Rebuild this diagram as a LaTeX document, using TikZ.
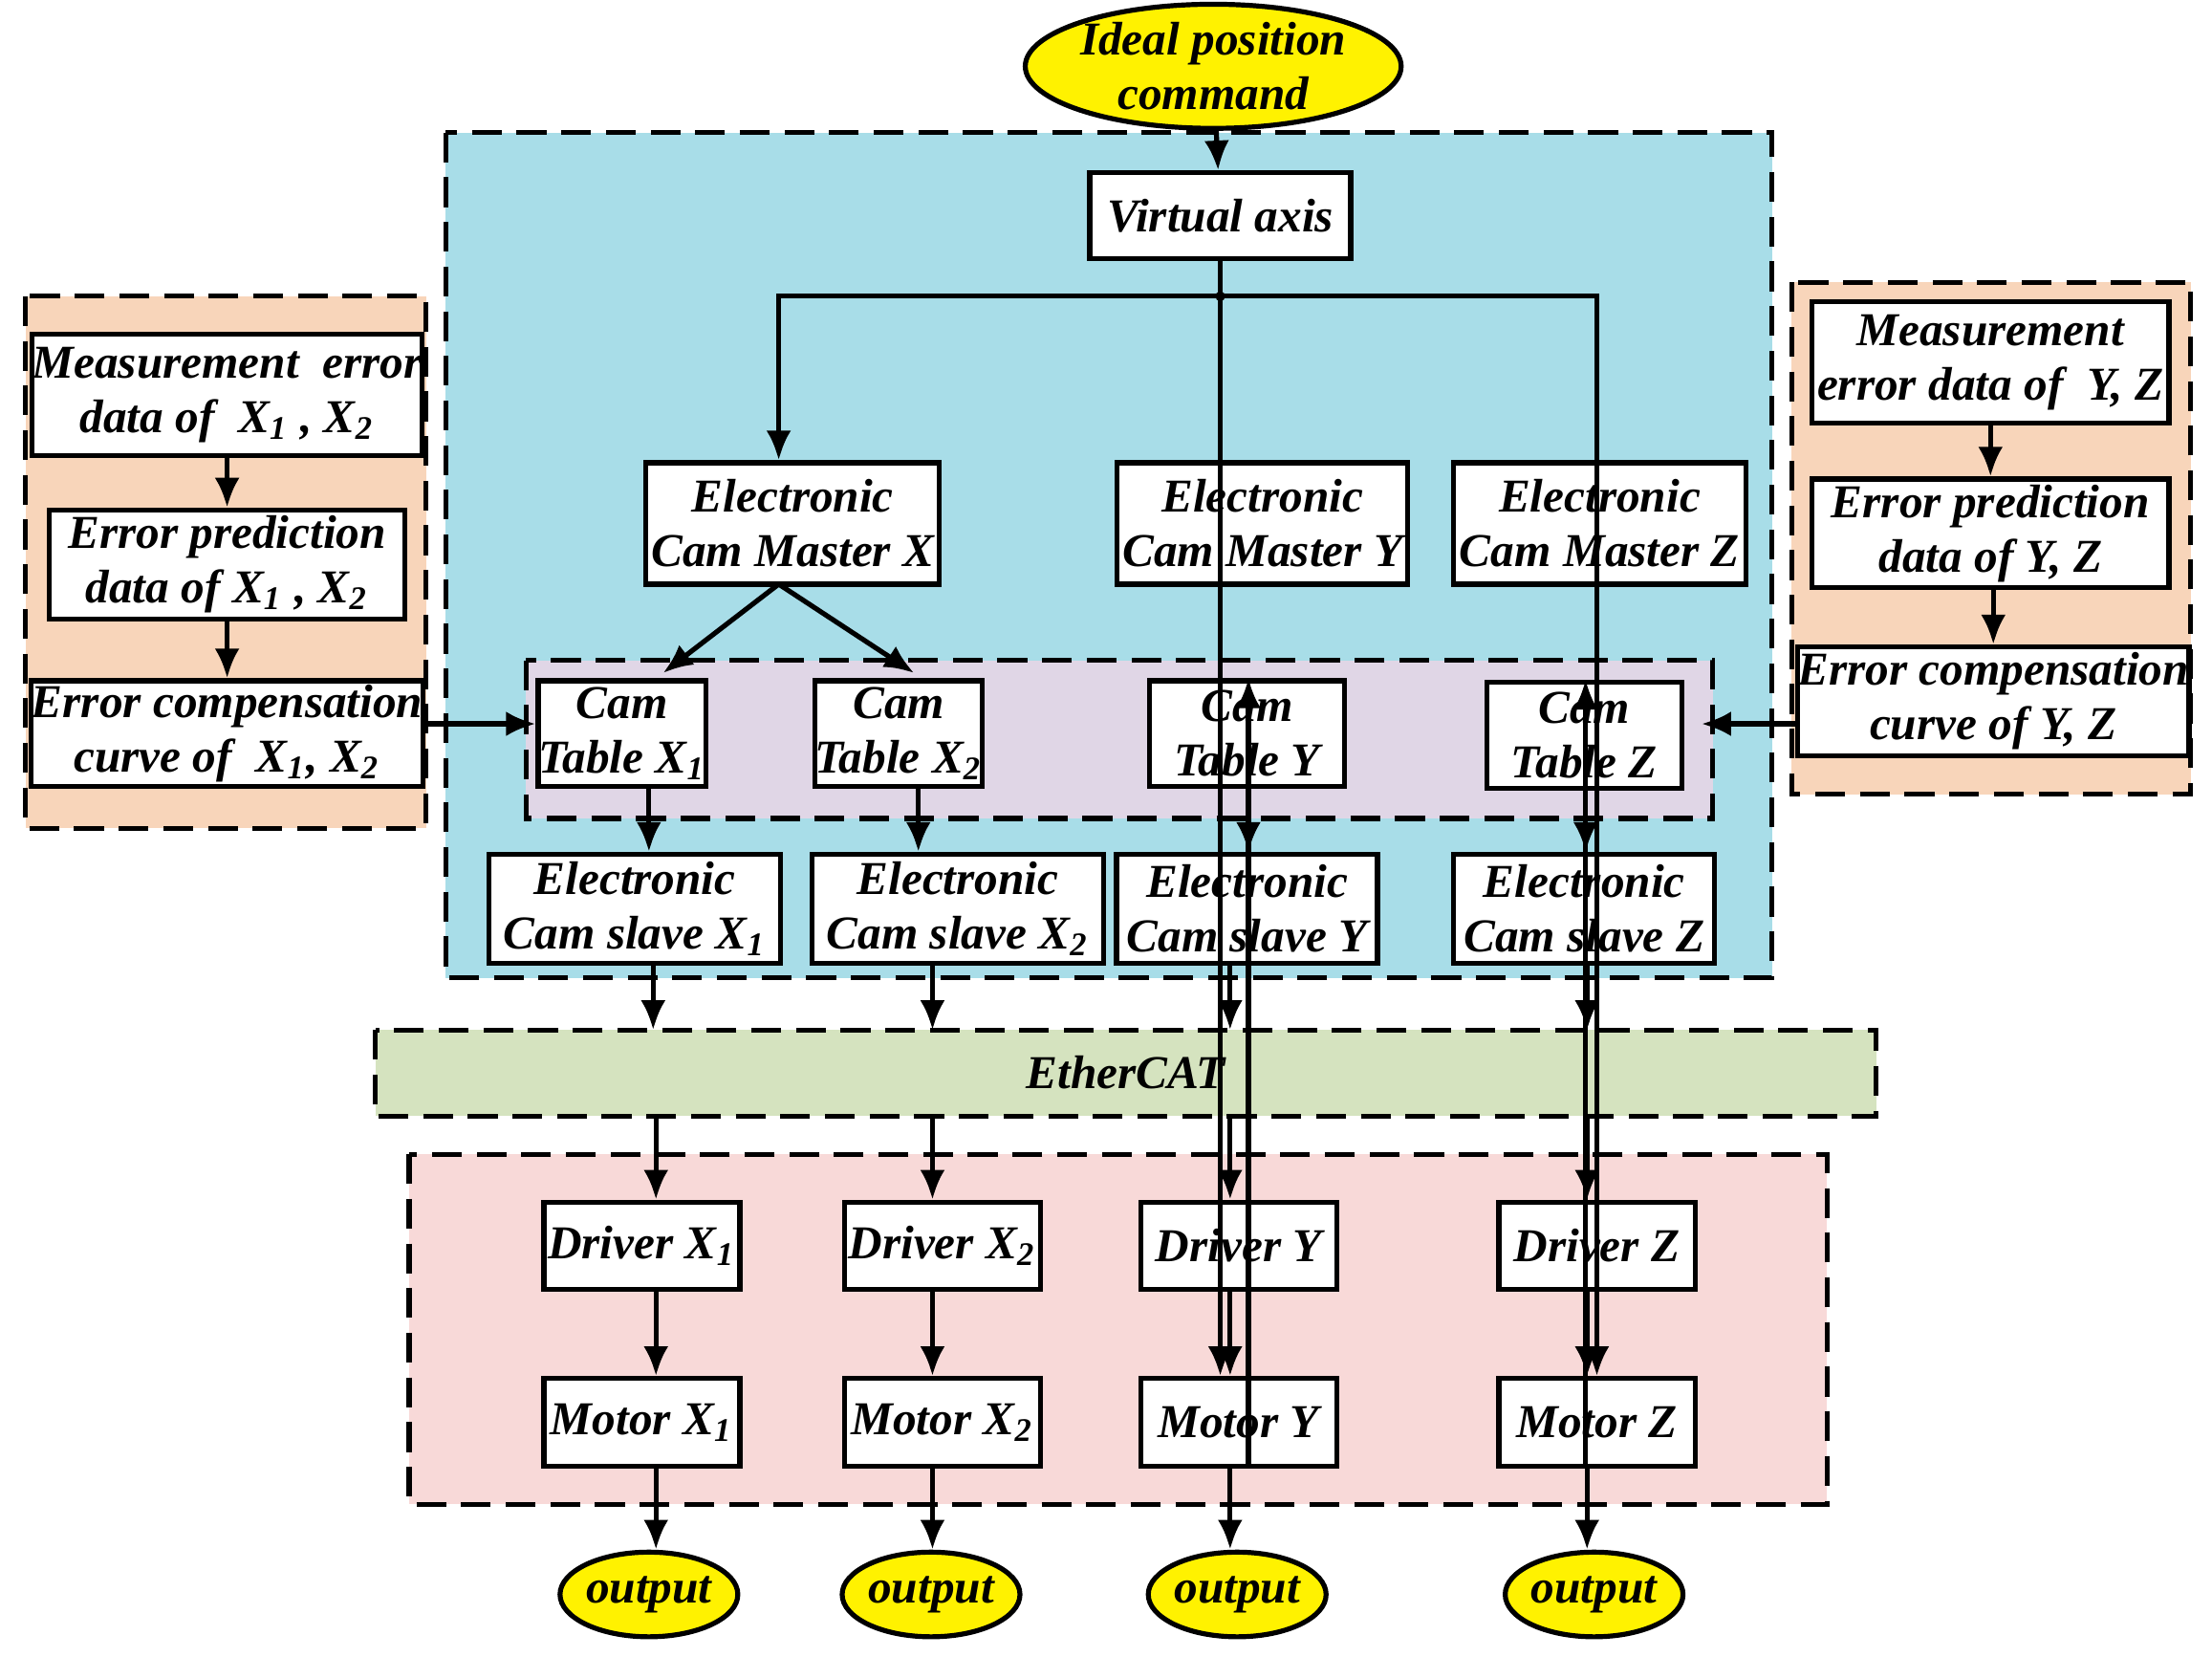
\documentclass[tikz,border=0pt]{standalone}
\usepackage{fontspec}
\setmainfont{Liberation Serif}
\usetikzlibrary{arrows.meta,shapes.geometric}
\begin{document}
\begin{tikzpicture}[x=0.01cm,y=-0.01cm,
  font=\fontsize{9.5}{11}\selectfont\bfseries\itshape,
  sz/.style 2 args={minimum width=#1*0.01cm,minimum height=#2*0.01cm},
  box/.style={draw,line width=1pt,fill=white,align=center,inner sep=0pt},
  reg/.style={draw,dashed,line width=1pt,dash pattern=on 6pt off 3pt},
  oval/.style={ellipse,draw,line width=1pt,fill=yellow,align=center,inner sep=0pt},
  ar/.style={-{Latex[length=6pt,width=5pt]},line width=1pt},
  ln/.style={line width=1pt}]
\useasboundingbox (0,0) rectangle (1568,1174);
\definecolor{cblue}{HTML}{A8DDE8}
\definecolor{cpur}{HTML}{E0D6E6}
\definecolor{corg}{HTML}{F8D5BA}
\definecolor{cgrn}{HTML}{D5E3BF}
\definecolor{cpink}{HTML}{F8D9D8}
% regions
\filldraw[reg,fill=cblue] (316,94) rectangle (1256,693);
\filldraw[reg,fill=cpur] (373,468) rectangle (1214,580);
\filldraw[reg,fill=corg] (18,210) rectangle (302,587);
\filldraw[reg,fill=corg] (1270,200) rectangle (1553,563);
\filldraw[reg,fill=cgrn] (266,730) rectangle (1330,791);
\filldraw[reg,fill=cpink] (290,818) rectangle (1295,1066);
\node (ecat) at (798,760) {EtherCAT};
% nodes
\node[oval,sz={250}{75}] (ideal) at (860,47) {Ideal position\\command};
\node[box,sz={185}{61}] (va) at (865,153) {Virtual axis};
\node[box,sz={208}{86}] (mx) at (562,371) {Electronic\\Cam Master X};
\node[box,sz={206}{86}] (my) at (895,371) {Electronic\\Cam Master Y};
\node[box,sz={207}{86}] (mz) at (1134,371) {Electronic\\Cam Master Z};
\node[box,sz={111}{75}] (tx1) at (441,520) {Cam\\Table X\textsubscript{1}};
\node[box,sz={110}{75}] (tx2) at (637,520) {Cam\\Table X\textsubscript{2}};
\node[box,sz={138}{75}] (ty) at (884,520) {Cam\\Table Y};
\node[box,sz={138}{75}] (tz) at (1123,521) {Cam\\Table Z};
\node[box,sz={207}{77}] (sx1) at (450,644) {Electronic\\Cam slave X\textsubscript{1}};
\node[box,sz={207}{77}] (sx2) at (679,644) {Electronic\\Cam slave X\textsubscript{2}};
\node[box,sz={185}{77}] (sy) at (884,644) {Electronic\\Cam slave Y};
\node[box,sz={185}{77}] (sz) at (1123,644) {Electronic\\Cam slave Z};
\foreach \n/\x/\t in {x1/455/X\textsubscript{1},x2/668/X\textsubscript{2},y/878/Y,z/1132/Z}{
  \node[box,sz={139}{62}] (d\n) at (\x,883) {Driver \t};
  \node[box,sz={139}{62}] (m\n) at (\x,1008) {Motor \t};
}
\foreach \n/\x in {x1/460,x2/660,y/877,z/1130}
  \node[oval,sz={108}{60}] (o\n) at (\x,1130) {output};
\node[box,sz={266}{86}] (lm) at (161,280) {Measurement\ \ error\\data of\ \ X\textsubscript{1} , X\textsubscript{2}};
\node[box,sz={252}{77}] (lp) at (161,400) {Error prediction\\data of X\textsubscript{1} , X\textsubscript{2}};
\node[box,sz={266}{75}] (lc) at (161,520) {Error compensation\\curve of\ \ X\textsubscript{1}, X\textsubscript{2}};
\node[box,sz={253}{86}] (rm) at (1411,257) {Measurement\\error data of\ \ Y, Z};
\node[box,sz={253}{77}] (rp) at (1411,378) {Error prediction\\data of Y, Z};
\node[box,sz={266}{77}] (rc) at (1413,497) {Error compensation\\curve of Y, Z};
% connectors
\draw[ar] (ideal) -- (va);
\coordinate (j) at (865,210);
\fill (j) circle (3.5);
\draw[ln] (va) -- (j);
\draw[ar] (j) -| (mx.north -| 552,0);
\draw[ar] (j) -- (my.north -| j);
\draw[ar] (j) -| (mz.north -| 1132,0);
\coordinate (mxb) at (552,414);
\draw[ar] (mxb) -- (470,477);
\draw[ar] (mxb) -- (648,477);
\draw[ar] (my.south -| 885,0) -- (ty.north -| 885,0);
\draw[ar] (mz.south -| 1124,0) -- (tz.north -| 1124,0);
\draw[ar] (tx1.south -| 460,0) -- (sx1.north -| 460,0);
\draw[ar] (tx2.south -| 651,0) -- (sx2.north -| 651,0);
\draw[ar] (ty.south -| 885,0) -- (sy.north -| 885,0);
\draw[ar] (tz.south -| 1124,0) -- (sz.north -| 1124,0);
\foreach \s/\x in {sx1/463,sx2/661,sy/872,sz/1125}
  \draw[ar] (\s.south -| \x,0) -- (\x,730);
\foreach \n/\x in {x1/465,x2/661,y/872,z/1125}{
  \draw[ar] (\x,791) -- (d\n.north -| \x,0);
  \draw[ar] (d\n.south -| \x,0) -- (m\n.north -| \x,0);
  \draw[ar] (m\n.south -| \x,0) -- (o\n.north -| \x,0);
}
\draw[ar] (lm) -- (lp);
\draw[ar] (lp) -- (lc);
\draw[ar] (lc.east |- 0,513) -- (tx1.west |- 0,513);
\draw[ar] (rm) -- (rp);
\draw[ar] (rp.south -| 1413,0) -- (rc);
\coordinate (tzr) at (1206,513);
\draw[ar] (rc.west |- 0,513) -- (tzr);
\end{tikzpicture}
\end{document}
